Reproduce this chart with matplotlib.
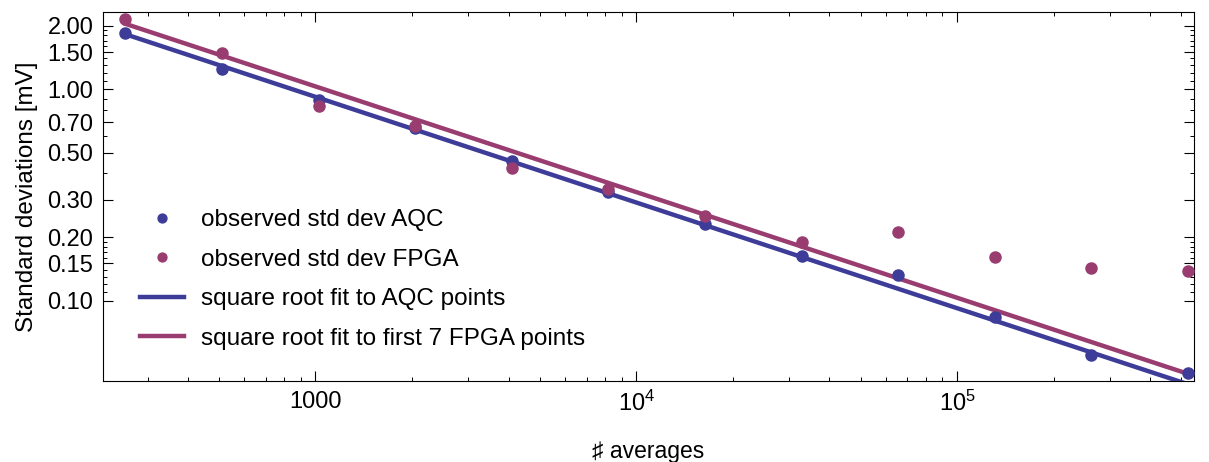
import numpy as np
import matplotlib
matplotlib.use('Agg')
import matplotlib.pyplot as plt
from matplotlib.ticker import FixedLocator, FixedFormatter, NullFormatter

plt.rcParams['font.family'] = ['Liberation Sans', 'DejaVu Sans']
plt.rcParams['mathtext.fontset'] = 'custom'
plt.rcParams['mathtext.rm'] = 'Liberation Sans'
plt.rcParams['mathtext.it'] = 'Liberation Sans'

# number of averages (powers of two)
n_avg = [256, 512, 1024, 2048, 4096, 8192, 16384, 32768, 65536, 131072, 262144, 524288]

# observed standard deviations [mV]
std_aqc = [1.85, 1.25, 0.89, 0.656, 0.458, 0.327, 0.231, 0.163, 0.132, 0.0838, 0.0554, 0.0455]
std_fpga = [2.15, 1.48, 0.834, 0.67, 0.425, 0.338, 0.252, 0.19, 0.211, 0.161, 0.143, 0.138]

y_major = [0.10, 0.15, 0.20, 0.30, 0.50, 0.70, 1.00, 1.50, 2.00]
y_minor = [0.11, 0.12, 0.13, 0.14, 0.16, 0.17, 0.18, 0.19, 0.4, 0.6, 0.8, 0.9,
           1.1, 1.2, 1.3, 1.4, 1.6, 1.7, 1.8, 1.9]
x_major = [1000, 1e4, 1e5]
x_labels = ['1000', '$10^4$', '$10^5$']

blue = '#3d3d99'
purple = '#993d71'

n = np.array(n_avg, dtype=float)
a_aqc = np.array(std_aqc)
a_fpga = np.array(std_fpga)

# least-squares fit of c / sqrt(N)
def sqrt_fit(nn, yy):
    w = 1 / np.sqrt(nn)
    return np.sum(yy * w) / np.sum(w * w)

c_aqc = sqrt_fit(n, a_aqc)
c_fpga = sqrt_fit(n[:7], a_fpga[:7])

fig = plt.figure(figsize=(12.09, 4.62), dpi=100)
ax = fig.add_axes([103 / 1209, 1 - 381 / 462, (1194 - 103) / 1209, (381 - 12) / 462])

xf = np.geomspace(n[0], n[-1], 200)
ax.plot(n, a_aqc, 'o', color=blue, ms=8, label='observed std dev AQC', zorder=3)
ax.plot(n, a_fpga, 'o', color=purple, ms=8, label='observed std dev FPGA', zorder=3)
ax.plot(xf, c_aqc / np.sqrt(xf), color=blue, lw=3.2, label='square root fit to AQC points')
ax.plot(xf, c_fpga / np.sqrt(xf), color=purple, lw=3.2, label='square root fit to first 7 FPGA points')

ax.set_xscale('log')
ax.set_yscale('log')
ax.set_xlim(218, 547000)
ax.set_ylim(0.0417, 2.32)

ax.yaxis.set_major_locator(FixedLocator(y_major))
ax.yaxis.set_major_formatter(FixedFormatter(['%.2f' % v for v in y_major]))
ax.yaxis.set_minor_locator(FixedLocator(y_minor))
ax.yaxis.set_minor_formatter(NullFormatter())
ax.xaxis.set_major_locator(FixedLocator(x_major))
ax.xaxis.set_major_formatter(FixedFormatter(x_labels))

ax.tick_params(which='both', direction='in', top=True, right=True, labelsize=17)
ax.tick_params(which='major', length=7, width=0.8)
ax.tick_params(which='minor', length=3, width=0.7)
ax.tick_params(axis='x', pad=7)
ax.tick_params(axis='y', pad=7)

ax.set_xlabel('\u266f averages', fontsize=16.5, labelpad=17)
ax.set_ylabel('Standard deviations [mV]', fontsize=17.5, labelpad=7)

ax.legend(loc='center left', bbox_to_anchor=(0.034, 0.275), frameon=False, fontsize=17.5,
          handlelength=1.8, handletextpad=0.7, labelspacing=0.72, markerscale=0.8,
          borderpad=0, borderaxespad=0)

fig.savefig('out.png', dpi=100)
